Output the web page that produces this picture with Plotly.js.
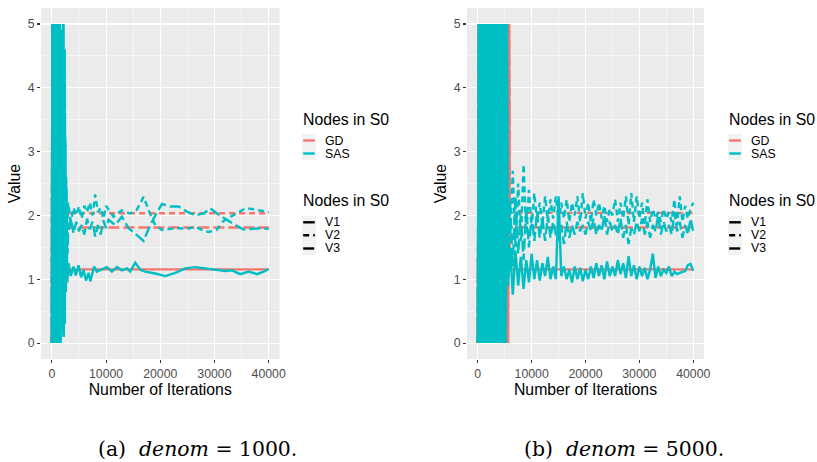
<!DOCTYPE html>
<html><head><meta charset="utf-8">
<script src="https://cdn.plot.ly/plotly-3.0.1.min.js"></script>
<style>html,body{margin:0;padding:0;background:#fff}#chart{width:817px;height:462px}</style>
</head><body><div id="chart"></div>
<script>
// ---------- Panel (a): denom = 1000 ----------
var burnA_x = [0,100,200,300,400,500,600,700,800,900,1000,1100,1200,1300,1400,1500,1600,1700,1800,1900,2000,2100,2200,2300];
var sasA_burn = [0,5,0.1,5,0,4.9,0.2,5,0,5,0.1,4.8,0,5,0.3,5,0,4.7,0.2,4.9,0.4,5,0.1,4.6];

var sasA_v1_x = [2400,2500,2600,2700,2850,3070,3500,3990,4400,4920,5400,5840,6300,6770,7100,7380,7800,8300,9230,10150,11080,12000,12920,13850,14460,15380,16310,17230,19080,20930,22770,24620,26470,28310,30160,32010,33240,34780,36320,37860,39090,40000];
var sasA_v1_y = [0.3,3.2,0.8,2.0,0.95,1.25,1.05,1.2,1.06,1.22,1.03,1.15,0.98,1.1,0.97,1.05,1.2,1.12,1.16,1.19,1.12,1.19,1.14,1.17,1.12,1.26,1.15,1.12,1.09,1.05,1.10,1.17,1.19,1.17,1.14,1.13,1.14,1.08,1.12,1.08,1.12,1.16];

var sasA_v2_x = [2400,2500,2650,2800,3000,3500,4000,4500,5000,5500,6000,6500,7000,7500,8000,8500,9000,9500,10000,11380,12920,14460,15690,16920,18150,19080,20310,21850,23390,24930,26470,28010,29000,30500,31500,33000,34500,35700,37000,38500,40000];
var sasA_v2_y = [4.2,0.9,2.6,1.5,2.2,1.9,2.12,2.0,2.14,1.95,2.15,2.05,2.2,2.0,2.33,2.05,2.12,1.95,2.15,1.98,2.08,2.03,2.09,2.29,2.02,1.85,1.77,1.79,1.8,1.79,1.82,1.76,1.74,1.78,1.9,1.98,2.06,2.11,2.1,2.07,2.05];

var sasA_v3_x = [2400,2550,2700,2900,3000,3500,4000,4500,5000,5500,6000,6500,7000,7500,8000,8500,9000,9500,10000,10460,11690,12920,14150,15690,16920,17900,19080,20310,21850,23390,24930,26470,28010,29240,30780,32320,33800,35400,36940,38480,40000];
var sasA_v3_y = [3.6,1.1,2.4,1.4,1.7,1.95,1.72,1.9,1.75,1.85,1.7,1.95,1.78,1.9,1.67,1.85,1.7,1.92,1.8,1.93,1.85,1.98,1.80,1.69,1.60,1.8,2.0,2.18,2.14,2.14,2.06,2.0,2.03,2.11,2.01,1.93,1.85,1.78,1.79,1.8,1.79];

var gdA_burn_x = [0,30,60,90,120,150,180,210,240,270,300];
var gdA_burn_y = [0,5,0,5,0.1,4.9,0.3,4.5,0.6,3.8,1.0];
var gdA_tail_x = [700,40000];
var gdA_v1_y = [1.155,1.155];
var gdA_v2_y = [2.035,2.035];
var gdA_v3_y = [1.81,1.81];

// ---------- Panel (b): denom = 5000 ----------
var burnB_x = [0,200,400,600,800,1000,1200,1400,1600,1800,2000,2200,2400,2600,2800,3000,3200,3400,3600,3800,4000,4200,4400,4600,4800,5000,5200,5400];
var sasB_burn = [0,5,0,5,0,5,0,5,0,5,0,5,0,5,0,5,0,5,0,5,0,5,0,5,0,5,0,5];

var xsB = [5600,6000,6500,7000,7500,8000,8500,9000,9500,10000,10500,11000,11500,12000,12500,13000,13500,14000,14500,15000,15500,16000,16500,17000,17500,18000,18500,19000,19500,20000,20500,21000,21500,22000,22500,23000,23500,24000,24500,25000,25500,26000,26500,27000,27500,28000,28500,29000,29500,30000,30500,31000,31500,32000,32500,33000,33500,34000,34500,35000,35500,36000,36500,37000,37500,38000,38500,39000,39500,40000];
var sasB_v1_y = [0.9,1.5,0.76,1.45,0.9,1.35,0.85,1.3,0.95,1.4, 1.0,1.3,0.98,1.25,1.05,1.35,1.0,1.2,1.0,2.3, 1.05,1.2,1.0,1.15,0.95,1.2,1.0,1.18,0.97,1.15, 1.0,1.2,1.02,1.25,1.05,1.22,1.0,1.28,1.05,1.2, 1.05,1.3,1.08,1.25,1.02,1.36,1.05,1.22,1.0,1.2, 1.05,1.18,1.0,1.15,1.4,1.02,1.2,1.05,1.15,1.1, 1.2,1.05,1.12,1.08,1.1,1.12,1.13,1.22,1.24,1.13];
var sasB_v2_y = [2.4,1.6,2.7,1.5,2.5,1.6,2.8,1.7,2.4,1.8, 2.35,1.9,2.2,1.85,2.3,1.9,2.25,1.95,2.3,1.9, 2.2,1.95,2.25,1.9,2.2,2.0,2.3,1.9,2.35,1.95, 2.2,1.9,2.25,2.0,2.2,1.95,2.15,1.9,2.1,2.0, 2.25,1.9,2.2,1.95,2.3,1.85,2.35,1.9,2.3,1.95, 2.2,1.85,2.25,1.9,2.1,1.95,2.05,1.9,2.1,1.95, 2.05,1.9,2.25,1.85,2.3,1.9,2.15,1.95,2.1,2.2];
var sasB_v3_y = [1.3,2.2,1.2,2.3,1.4,2.0,1.3,2.1,1.5,2.0, 1.6,2.05,1.65,1.95,1.6,2.0,1.65,1.9,1.7,1.6, 1.85,1.55,1.9,1.65,1.85,1.7,1.9,1.75,1.85,1.7, 1.9,1.75,1.95,1.7,1.85,1.75,2.0,1.7,1.9,1.75, 1.85,1.7,1.95,1.65,1.85,1.55,1.8,1.7,1.9,1.75, 1.95,1.7,1.9,1.65,1.85,1.75,2.0,1.7,1.9,1.75, 1.85,1.7,2.05,1.75,1.9,1.65,1.85,1.7,1.95,1.75];

var gdB_burn_x = [0,200,400,600,800,1000,1200,1400,1600,1800,2000,2200,2400,2600,2800,3000,3200,3400,3600,3800,4000,4200,4400,4600,4800,5000,5200,5400,5600,5800];
var gdB_burn_y = [0,5,0,5,0,5,0,5,0,5,0,5,0,5,0,5,0,5,0,5,0,5,0,5,0,5,0,5,0,5];
var gdB_tail_x = [5950,40000];
var gdB_v1_y = [1.155,1.155];
var gdB_v2_y = [2.04,2.04];
var gdB_v3_y = [1.81,1.81];

// ---------- Labels ----------
var methodNames = ['GD','SAS'];
var nodeNames = ['V1','V2','V3'];
var legendTitle = 'Nodes in S0';
var xTitle = 'Number of Iterations';
var yTitle = 'Value';
var captions = ['(a)&#160;&#160;<i>denom</i> = 1000.', '(b)&#160;&#160;<i>denom</i> = 5000.'];

// ---------- Styles ----------
var RED = '#F8766D', CYAN = '#00BFC4';
var DASHES = ['solid','6px,4px','11px,4px'];
var FONT = 'Liberation Sans, Arial, Helvetica, sans-serif';
var LW = 2.4;
var W = 817, H = 462;

var traces = [];
function addLine(x, y, xa, ya, color, dash) {
  traces.push({type:'scatter', mode:'lines', x:x, y:y, xaxis:xa, yaxis:ya,
    line:{color:color, width:LW, dash:dash}, showlegend:false, hoverinfo:'skip'});
}
// panel a
addLine(gdA_burn_x.concat(gdA_tail_x), gdA_burn_y.concat(gdA_v1_y), 'x','y', RED, DASHES[0]);
addLine(gdA_burn_x.concat(gdA_tail_x), gdA_burn_y.concat(gdA_v2_y), 'x','y', RED, DASHES[1]);
addLine(gdA_burn_x.concat(gdA_tail_x), gdA_burn_y.concat(gdA_v3_y), 'x','y', RED, DASHES[2]);
addLine(burnA_x.concat(sasA_v1_x), sasA_burn.concat(sasA_v1_y), 'x','y', CYAN, DASHES[0]);
addLine(burnA_x.concat(sasA_v2_x), sasA_burn.concat(sasA_v2_y), 'x','y', CYAN, DASHES[1]);
addLine(burnA_x.concat(sasA_v3_x), sasA_burn.concat(sasA_v3_y), 'x','y', CYAN, DASHES[2]);
// panel b
addLine(gdB_burn_x.concat(gdB_tail_x), gdB_burn_y.concat(gdB_v1_y), 'x2','y2', RED, DASHES[0]);
addLine(gdB_burn_x.concat(gdB_tail_x), gdB_burn_y.concat(gdB_v2_y), 'x2','y2', RED, DASHES[1]);
addLine(gdB_burn_x.concat(gdB_tail_x), gdB_burn_y.concat(gdB_v3_y), 'x2','y2', RED, DASHES[2]);
addLine(burnB_x.concat(xsB), sasB_burn.concat(sasB_v1_y), 'x2','y2', CYAN, DASHES[0]);
addLine(burnB_x.concat(xsB), sasB_burn.concat(sasB_v2_y), 'x2','y2', CYAN, DASHES[1]);
addLine(burnB_x.concat(xsB), sasB_burn.concat(sasB_v3_y), 'x2','y2', CYAN, DASHES[2]);

// ---------- ggplot-style legends (keys + labels) ----------
var shapes = [], annotations = [];
function px(x){ return x / W; }
function py(y){ return 1 - y / H; }
function legendText(x, y, text, size) {
  annotations.push({xref:'paper', yref:'paper', x:px(x), y:py(y), xanchor:'left', yanchor:'middle',
    showarrow:false, text:text, borderpad:0, font:{family:FONT, size:size, color:'#000'}});
}
function legendKey(x, y, color, dash) {
  shapes.push({type:'rect', xref:'paper', yref:'paper', x0:px(x), x1:px(x+14), y0:py(y-6.5), y1:py(y+6.5),
    fillcolor:'#F2F2F2', line:{width:0}, layer:'below'});
  shapes.push({type:'line', xref:'paper', yref:'paper', x0:px(x+1.2), x1:px(x+12.8), y0:py(y), y1:py(y),
    line:{color:color, width:LW, dash:dash}});
}
var keyRows1 = [140.5, 153.5], keyRows2 = [222.3, 235.3, 248.5];
[301.5, 727.5].forEach(function(lx){
  legendText(lx, 119.3, legendTitle, 15.8);
  [RED, CYAN].forEach(function(c, i){
    legendKey(lx+0.5, keyRows1[i], c, 'solid');
    legendText(lx+22.5, keyRows1[i], methodNames[i], 12.3);
  });
  legendText(lx, 200.5, legendTitle, 15.8);
  nodeNames.forEach(function(n, i){
    legendKey(lx+0.5, keyRows2[i], '#000', DASHES[i]);
    legendText(lx+22.5, keyRows2[i], n, 12.3);
  });
});

// captions (kept fully inside the page)
[197, 623.5].forEach(function(cx, i){
  annotations.push({xref:'paper', yref:'paper', x:px(cx), y:0, xanchor:'center', yanchor:'bottom',
    showarrow:false, borderpad:0, text:captions[i],
    font:{family:'DejaVu Serif, Liberation Serif, serif', size:20.4, color:'#000'}});
});

function xAxis(dom, anchor) {
  return {domain:dom, anchor:anchor, range:[-2000,42000], tick0:0, dtick:10000, tickformat:'d',
    ticks:'outside', ticklen:3, tickwidth:1.1, tickcolor:'#333',
    showgrid:true, gridcolor:'#fff', gridwidth:1.1,
    minor:{tick0:0, dtick:5000, showgrid:true, gridcolor:'#fff', gridwidth:0.5},
    zeroline:false, showline:false, automargin:false,
    tickfont:{family:FONT, size:12.3, color:'#4D4D4D'},
    title:{text:xTitle, font:{family:FONT, size:15.8, color:'#000'}, standoff:1}};
}
function yAxis(dom, anchor) {
  return {domain:dom, anchor:anchor, range:[-0.25,5.25], tick0:0, dtick:1,
    ticks:'outside', ticklen:3, tickwidth:1.1, tickcolor:'#333',
    showgrid:true, gridcolor:'#fff', gridwidth:1.1,
    minor:{tick0:0, dtick:0.5, showgrid:true, gridcolor:'#fff', gridwidth:0.5},
    zeroline:false, showline:false, automargin:false,
    tickfont:{family:FONT, size:12.3, color:'#4D4D4D'},
    title:{text:yTitle, font:{family:FONT, size:15.8, color:'#000'}, standoff:3}};
}
var ydom = [0.2229, 0.9827];
var layout = {
  width:W, height:H, margin:{l:0,r:0,t:0,b:0},
  paper_bgcolor:'#fff', plot_bgcolor:'#EBEBEB',
  font:{family:FONT},
  xaxis:xAxis([41/W, 279.5/W], 'y'),
  yaxis:yAxis(ydom, 'x'),
  xaxis2:xAxis([467/W, 704/W], 'y2'),
  yaxis2:yAxis(ydom, 'x2'),
  shapes:shapes,
  annotations:annotations,
  showlegend:false
};
Plotly.newPlot('chart', traces, layout, {staticPlot:true, displayModeBar:false});
</script></body></html>
